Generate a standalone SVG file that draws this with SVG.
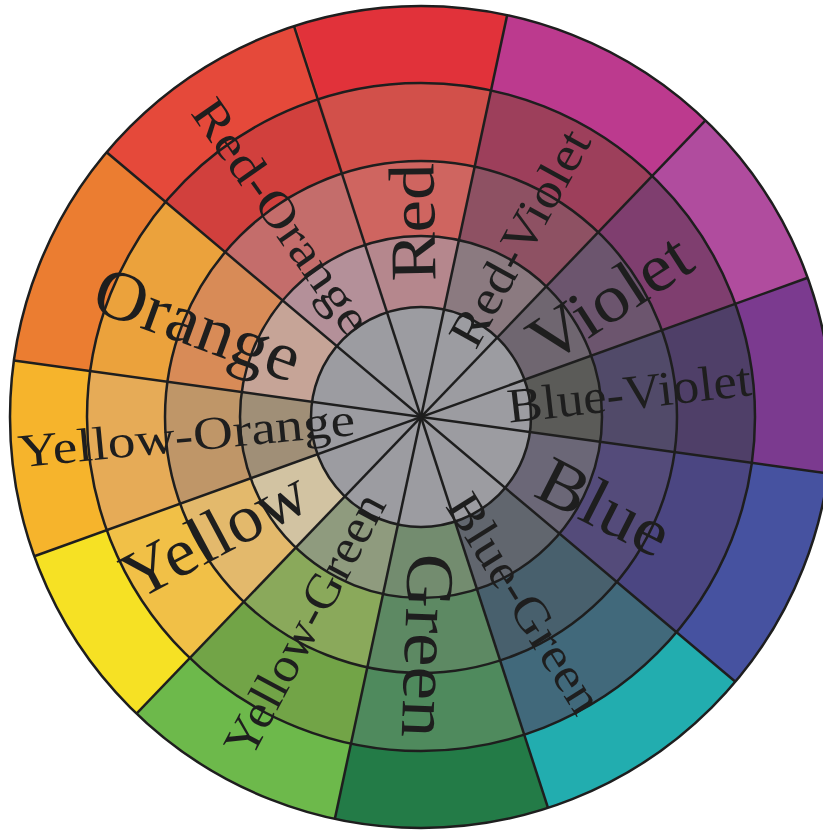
<svg xmlns="http://www.w3.org/2000/svg" width="823" height="833" viewBox="0 0 823 833">
<style>
.c{fill:none}
.o{stroke-width:77}
.r3{stroke-width:78}
.r2{stroke-width:75}
.r1{stroke-width:71}
.ln{fill:none;stroke:#1e1e1e;stroke-width:2.5}
text{font-family:"Liberation Serif","Times New Roman",serif;fill:#1e1e1e;text-anchor:middle}
.lg{font-size:68px}
.sm{font-size:49px}
</style>
<rect width="823" height="833" fill="#fff"/>
<g id="wheel" transform="translate(421,417)">
 <g id="seg-red" transform="rotate(-108)">
  <circle class="c o" r="372.5" stroke="#e1323a" stroke-dasharray="197.6 3000"/>
  <circle class="c r3" r="295" stroke="#d2504a" stroke-dasharray="156.5 3000"/>
  <circle class="c r2" r="218.5" stroke="#cf6560" stroke-dasharray="115.9 3000"/>
  <circle class="c r1" r="145.5" stroke="#b5878d" stroke-dasharray="77.2 3000"/>
 </g>
 <g id="seg-red-violet" transform="rotate(-77.9)">
  <circle class="c o" r="372.5" stroke="#bc3a8e" stroke-dasharray="208 3000"/>
  <circle class="c r3" r="295" stroke="#9d3f5b" stroke-dasharray="164.8 3000"/>
  <circle class="c r2" r="218.5" stroke="#8e5163" stroke-dasharray="122 3000"/>
  <circle class="c r1" r="145.5" stroke="#8b7a80" stroke-dasharray="81.3 3000"/>
 </g>
 <g id="seg-violet" transform="rotate(-46.2)">
  <circle class="c o" r="372.5" stroke="#b04c9e" stroke-dasharray="173.6 3000"/>
  <circle class="c r3" r="295" stroke="#7f3e6f" stroke-dasharray="137.5 3000"/>
  <circle class="c r2" r="218.5" stroke="#6c556e" stroke-dasharray="101.8 3000"/>
  <circle class="c r1" r="145.5" stroke="#6f6670" stroke-dasharray="67.8 3000"/>
 </g>
 <g id="seg-blue-violet" transform="rotate(-19.8)">
  <circle class="c o" r="372.5" stroke="#7b3a8f" stroke-dasharray="182 3000"/>
  <circle class="c r3" r="295" stroke="#4f3f68" stroke-dasharray="144.2 3000"/>
  <circle class="c r2" r="218.5" stroke="#514a69" stroke-dasharray="106.8 3000"/>
  <circle class="c r1" r="145.5" stroke="#5b5b58" stroke-dasharray="71.1 3000"/>
 </g>
 <g id="seg-blue" transform="rotate(7.9)">
  <circle class="c o" r="372.5" stroke="#4652a0" stroke-dasharray="211.3 3000"/>
  <circle class="c r3" r="295" stroke="#4b4682" stroke-dasharray="167.3 3000"/>
  <circle class="c r2" r="218.5" stroke="#544b7a" stroke-dasharray="123.9 3000"/>
  <circle class="c r1" r="145.5" stroke="#6b6777" stroke-dasharray="82.5 3000"/>
 </g>
 <g id="seg-blue-green" transform="rotate(40.1)">
  <circle class="c o" r="372.5" stroke="#22adaf" stroke-dasharray="209.3 3000"/>
  <circle class="c r3" r="295" stroke="#41697b" stroke-dasharray="165.8 3000"/>
  <circle class="c r2" r="218.5" stroke="#48606d" stroke-dasharray="122.8 3000"/>
  <circle class="c r1" r="145.5" stroke="#61666e" stroke-dasharray="81.8 3000"/>
 </g>
 <g id="seg-green" transform="rotate(72)">
  <circle class="c o" r="372.5" stroke="#237b47" stroke-dasharray="197.6 3000"/>
  <circle class="c r3" r="295" stroke="#4f8a5d" stroke-dasharray="156.5 3000"/>
  <circle class="c r2" r="218.5" stroke="#5d8963" stroke-dasharray="115.9 3000"/>
  <circle class="c r1" r="145.5" stroke="#738c6f" stroke-dasharray="77.2 3000"/>
 </g>
 <g id="seg-yellow-green" transform="rotate(102.1)">
  <circle class="c o" r="372.5" stroke="#6db94b" stroke-dasharray="208 3000"/>
  <circle class="c r3" r="295" stroke="#72a447" stroke-dasharray="164.8 3000"/>
  <circle class="c r2" r="218.5" stroke="#8aa95b" stroke-dasharray="122 3000"/>
  <circle class="c r1" r="145.5" stroke="#8f9b7e" stroke-dasharray="81.3 3000"/>
 </g>
 <g id="seg-yellow" transform="rotate(133.8)">
  <circle class="c o" r="372.5" stroke="#f6e124" stroke-dasharray="173.6 3000"/>
  <circle class="c r3" r="295" stroke="#f1c047" stroke-dasharray="137.5 3000"/>
  <circle class="c r2" r="218.5" stroke="#e3b96c" stroke-dasharray="101.8 3000"/>
  <circle class="c r1" r="145.5" stroke="#d2c3a2" stroke-dasharray="67.8 3000"/>
 </g>
 <g id="seg-yellow-orange" transform="rotate(160.2)">
  <circle class="c o" r="372.5" stroke="#f6b42c" stroke-dasharray="182 3000"/>
  <circle class="c r3" r="295" stroke="#e6ab57" stroke-dasharray="144.2 3000"/>
  <circle class="c r2" r="218.5" stroke="#bf9668" stroke-dasharray="106.8 3000"/>
  <circle class="c r1" r="145.5" stroke="#a08f77" stroke-dasharray="71.1 3000"/>
 </g>
 <g id="seg-orange" transform="rotate(187.9)">
  <circle class="c o" r="372.5" stroke="#eb7d31" stroke-dasharray="211.3 3000"/>
  <circle class="c r3" r="295" stroke="#eba23c" stroke-dasharray="167.3 3000"/>
  <circle class="c r2" r="218.5" stroke="#d88b57" stroke-dasharray="123.9 3000"/>
  <circle class="c r1" r="145.5" stroke="#c6a497" stroke-dasharray="82.5 3000"/>
 </g>
 <g id="seg-red-orange" transform="rotate(220.1)">
  <circle class="c o" r="372.5" stroke="#e5493a" stroke-dasharray="209.3 3000"/>
  <circle class="c r3" r="295" stroke="#d1403d" stroke-dasharray="165.8 3000"/>
  <circle class="c r2" r="218.5" stroke="#c46d6b" stroke-dasharray="122.8 3000"/>
  <circle class="c r1" r="145.5" stroke="#b49099" stroke-dasharray="81.8 3000"/>
 </g>
 <circle id="hub" r="110" fill="#9c9ca1"/>
 <g id="connectors" class="ln">
  <circle r="110"/>
  <circle r="181"/>
  <circle r="256"/>
  <circle r="334"/>
  <circle r="411"/>
  <line x1="0" y1="-411" x2="0" y2="411" transform="rotate(12.1)"/>
  <line x1="0" y1="-411" x2="0" y2="411" transform="rotate(43.8)"/>
  <line x1="0" y1="-411" x2="0" y2="411" transform="rotate(70.2)"/>
  <line x1="0" y1="-411" x2="0" y2="411" transform="rotate(97.9)"/>
  <line x1="0" y1="-411" x2="0" y2="411" transform="rotate(130.1)"/>
  <line x1="0" y1="-411" x2="0" y2="411" transform="rotate(162)"/>
 </g>
</g>
<g id="labels">
 <text id="t-red" style="font-size:65px" transform="translate(434.5,222) rotate(-91)" textLength="118" lengthAdjust="spacingAndGlyphs">Red</text>
 <text id="t-red-violet" class="sm" transform="translate(534,246) rotate(-61)" textLength="240" lengthAdjust="spacingAndGlyphs">Red-Violet</text>
 <text id="t-violet" class="lg" transform="translate(622,317) rotate(-33)" textLength="180" lengthAdjust="spacingAndGlyphs">Violet</text>
 <text id="t-blue-violet" class="sm" transform="translate(631,409) rotate(-6.5)" textLength="245" lengthAdjust="spacingAndGlyphs">Blue-Violet</text>
 <text id="t-blue" class="lg" transform="translate(594,527) rotate(27)" textLength="140" lengthAdjust="spacingAndGlyphs">Blue</text>
 <text id="t-blue-green" class="sm" transform="translate(511,612) rotate(58)" textLength="250" lengthAdjust="spacingAndGlyphs">Blue-Green</text>
 <text id="t-green" class="lg" transform="translate(405,645) rotate(92)" textLength="184" lengthAdjust="spacingAndGlyphs">Green</text>
 <text id="t-yellow-green" class="sm" transform="translate(319,632) rotate(-62)" textLength="290" lengthAdjust="spacingAndGlyphs">Yellow-Green</text>
 <text id="t-yellow" class="lg" transform="translate(225,554) rotate(-28)" textLength="200" lengthAdjust="spacingAndGlyphs">Yellow</text>
 <text id="t-yellow-orange" style="font-size:47px" transform="translate(188,451) rotate(-5.5)" textLength="338" lengthAdjust="spacingAndGlyphs">Yellow-Orange</text>
 <text id="t-orange" style="font-size:70px" transform="translate(190,346) rotate(20)" textLength="215" lengthAdjust="spacingAndGlyphs">Orange</text>
 <text id="t-red-orange" class="sm" transform="translate(268.5,225.5) rotate(55)" textLength="275" lengthAdjust="spacingAndGlyphs">Red-Orange</text>
</g>
</svg>
